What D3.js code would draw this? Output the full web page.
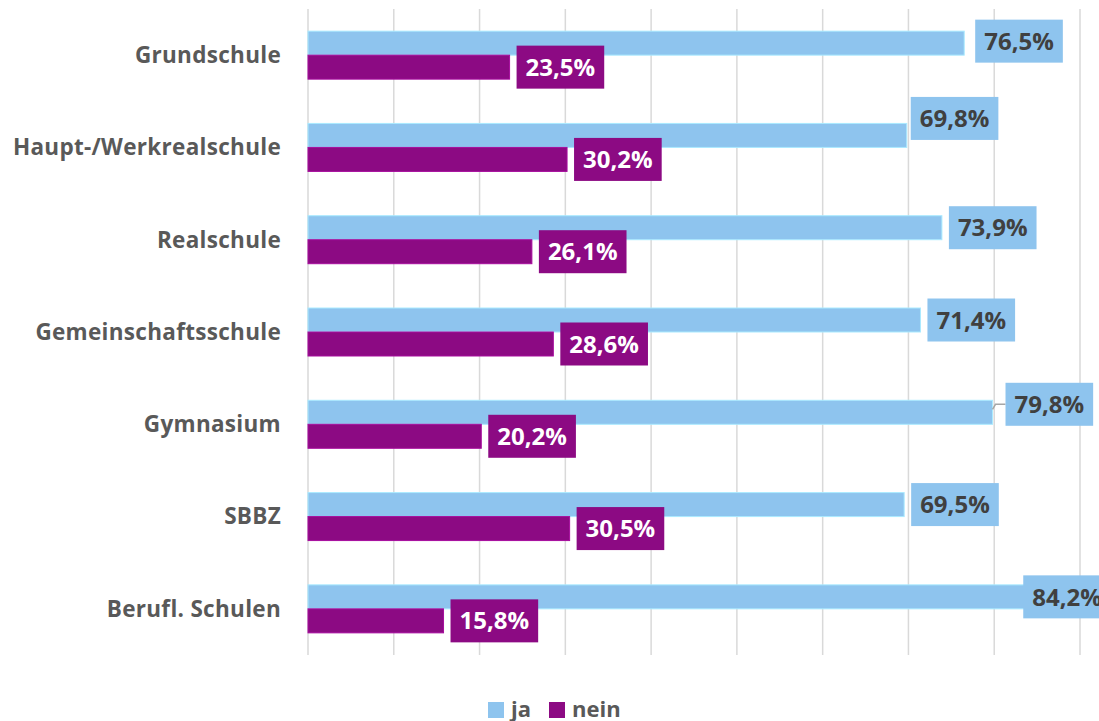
<!DOCTYPE html>
<html><head><meta charset="utf-8">
<script src="https://cdn.jsdelivr.net/npm/d3@7"></script>
<style>body{margin:0;background:#fff;} svg{display:block;font-family:"Open Sans",sans-serif;}</style>
</head><body>
<svg id="c" width="1099" height="721"></svg>
<script>
const categories = ["Grundschule","Haupt-/Werkrealschule","Realschule","Gemeinschaftsschule","Gymnasium","SBBZ","Berufl. Schulen"];
const seriesNames = ["ja","nein"];
const jaValues = [76.5, 69.8, 73.9, 71.4, 79.8, 69.5, 84.2];
const neinValues = [23.5, 30.2, 26.1, 28.6, 20.2, 30.5, 15.8];
const xTicks = [0,10,20,30,40,50,60,70,80,90];

const colors = {ja:"#8EC4EE", nein:"#8C0A83"};
const labelText = {ja:"#404040", nein:"#ffffff"};
// manual label nudges (as moved in the original chart)
const jaNudge = {"Grundschule":{dx:4,dy:-2},"Haupt-/Werkrealschule":{dx:-3,dy:-17},"Gymnasium":{dx:6,dy:-8,leader:true},"Berufl. Schulen":{dx:-14,dy:0}};

const svg = d3.select("#c");
const x = d3.scaleLinear().domain([0,90]).range([308,1080]);
const y = d3.scaleBand().domain(categories).range([9,655]).paddingInner(0.48).paddingOuter(0.24);
const ys = d3.scaleBand().domain(seriesNames).range([0,y.bandwidth()]);

const fmt = v => d3.format(".1f")(v).replace(".", ",") + "%";

// gridlines
svg.append("g").selectAll("line").data(xTicks).join("line")
  .attr("x1", d=>x(d)).attr("x2", d=>x(d)).attr("y1", 9).attr("y2", 655)
  .attr("stroke", "#d9d9d9").attr("stroke-width", 1.5);

// category labels
svg.append("g").selectAll("text").data(categories).join("text")
  .attr("x", 281).attr("y", d=>y(d)+y.bandwidth()/2).attr("dy","0.35em")
  .attr("text-anchor","end").attr("font-size", 22.5).attr("font-weight", 700)
  .attr("letter-spacing", 0.3)
  .attr("fill", "#595959").text(d=>d);

const rows = [];
categories.forEach((c,i)=>{
  rows.push({cat:c, s:"ja", v:jaValues[i]});
  rows.push({cat:c, s:"nein", v:neinValues[i]});
});

svg.append("g").selectAll("rect").data(rows).join("rect")
  .attr("x", x(0)).attr("y", d=>y(d.cat)+ys(d.s))
  .attr("width", d=>x(d.v)-x(0)).attr("height", ys.bandwidth())
  .attr("fill", d=>colors[d.s])
  .attr("stroke", d=>d3.color(colors[d.s]).brighter(0.5)).attr("stroke-width", 1);

// labels
const lg = svg.append("g");
const boxH = 43, padX = 9, gap = 7;
rows.forEach(d=>{
  const n = (d.s==="ja" && jaNudge[d.cat]) || {dx:0,dy:0};
  const cy = y(d.cat)+ys(d.s)+ys.bandwidth()/2;
  const g = lg.append("g");
  const rect = g.append("rect").attr("fill", colors[d.s]);
  const t = g.append("text").attr("font-size", 24).attr("font-weight", 700)
    .attr("fill", labelText[d.s]).text(fmt(d.v));
  const w = t.node().getComputedTextLength();
  const bx = x(d.v) + gap + n.dx;
  const by = cy + n.dy - boxH/2;
  rect.attr("x", bx).attr("y", by).attr("width", w + 2*padX).attr("height", boxH);
  t.attr("x", bx + padX).attr("y", by + boxH/2).attr("dy", "0.36em");
  if (n.leader) {
    lg.insert("path", ":first-child")
      .attr("d", `M${x(d.v)},${cy-3}L${x(d.v)+3},${cy+n.dy}L${bx},${cy+n.dy}`)
      .attr("fill","none").attr("stroke","#a6a6a6").attr("stroke-width",1.5);
  }
});

// legend
const leg = svg.append("g");
const legItems = [{s:"ja", x:488, tx:511},{s:"nein", x:549, tx:572}];
legItems.forEach(it=>{
  leg.append("rect").attr("x", it.x).attr("y", 702).attr("width",16).attr("height",16).attr("fill", colors[it.s]);
  leg.append("text").attr("x", it.tx).attr("y", 709).attr("dy","0.35em")
    .attr("font-size", 22).attr("font-weight",700).attr("fill","#595959").text(it.s);
});
</script>
</body></html>
